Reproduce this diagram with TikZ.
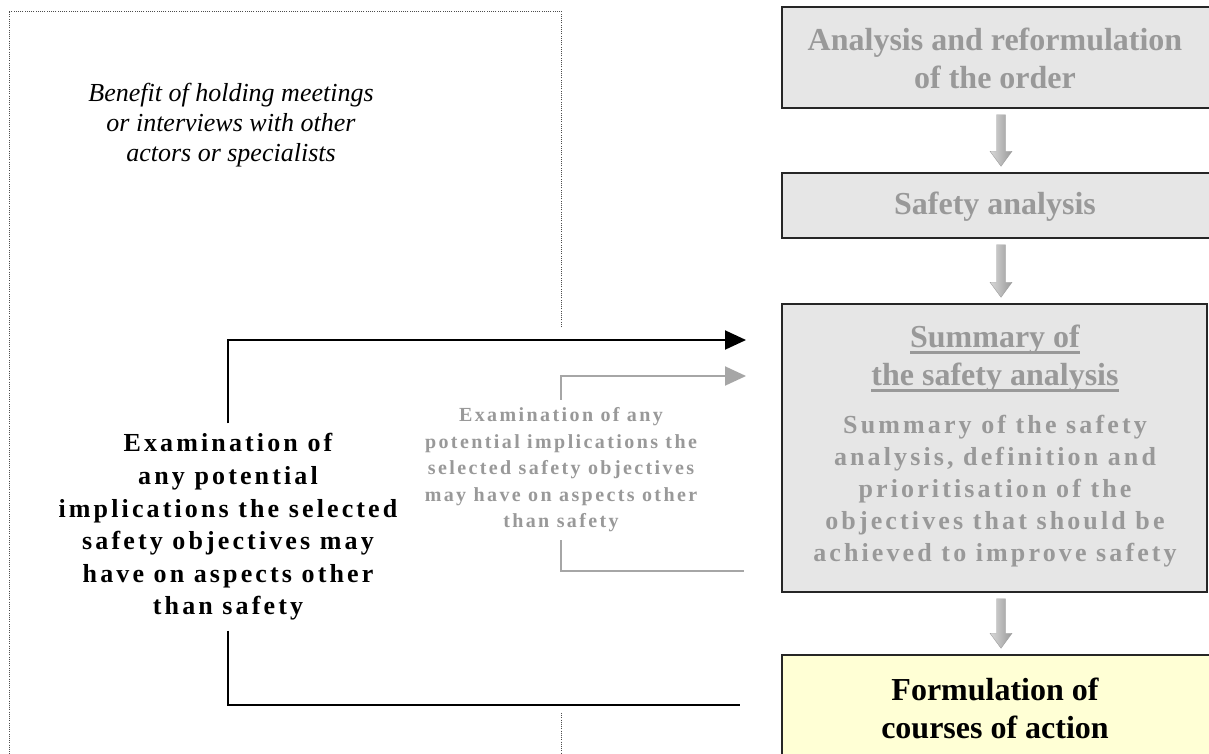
\documentclass[tikz,border=0pt]{standalone}
\usepackage{fontspec}
\setmainfont{Liberation Serif}
\newfontfamily\spacedserif[LetterSpace=12]{Liberation Serif}
\usetikzlibrary{arrows.meta,calc}
\definecolor{boxgray}{HTML}{E6E6E6}
\definecolor{txtgray}{HTML}{999999}
\definecolor{linegray}{HTML}{A6A6A6}
\definecolor{paleyellow}{HTML}{FFFFD5}
\newcommand\myul[1]{\leavevmode\setbox0=\hbox{#1}\rlap{\raisebox{-6pt}{\color{txtgray}\rule{\wd0}{2.5pt}}}\box0}
\tikzset{
  frameline/.style={draw=black!70, line width=1pt, dash pattern=on 1pt off 1.2pt},
  stagebox/.style={draw=black!85, line width=1.5pt, fill=boxgray, rectangle, inner sep=0pt},
  titletext/.style={font={\fontsize{32}{38}\selectfont\bfseries}, align=center, inner sep=0pt, text=txtgray},
  bodytext/.style={font={\spacedserif\fontsize{26}{32}\selectfont\bfseries}, align=center, inner sep=0pt, text=txtgray},
  blacktext/.style={font={\spacedserif\fontsize{26}{32.6}\selectfont\bfseries}, align=center, inner xsep=0pt, inner ysep=10pt},
  graytext/.style={font={\spacedserif\fontsize{20}{26.5}\selectfont\bfseries}, align=center, inner xsep=0pt, inner ysep=8pt, text=txtgray},
  italictext/.style={font={\fontsize{26}{30}\selectfont\itshape}, align=center, inner sep=0pt},
  blackline/.style={draw=black, line width=2pt},
  grayline/.style={draw=linegray, line width=2pt},
  tipblack/.style={-{Triangle[length=21pt,width=19pt]}},
  tipgray/.style={-{Triangle[length=21pt,width=19pt,fill=linegray]}},
}
\newcommand\blockarrow[2]{%
  \shade[left color=gray!30, right color=gray!80, draw=gray!75, line width=0.4pt]
  let \p0=(axis), \p1=(#1), \p2=(#2) in
  (\x0-4.5pt,\y1-6pt) -- (\x0+4.5pt,\y1-6pt) -- (\x0+4.5pt,\y2+21pt) -- (\x0+11pt,\y2+21pt)
  -- (\x0,\y2+6pt) -- (\x0-11pt,\y2+21pt) -- (\x0-4.5pt,\y2+21pt) -- cycle;}
\begin{document}
\begin{tikzpicture}[x=1pt,y=-1pt]
\useasboundingbox[fill=white] (0,0) rectangle (1209,753);
% dotted frame
\draw[frameline] (561,327) -- (561,11) -- (9,11) -- (9,770);
\draw[frameline] (561,713) -- (561,770);
% italic note
\node[italictext] (note) at (231,125) {Benefit of holding meetings\\or interviews with other\\actors or specialists};
% stage boxes
\node[stagebox, minimum width=434pt, minimum height=101pt] (b1) at (999,57.5) {};
\node[stagebox, minimum width=434pt, minimum height=65pt] (b2) at (999,205.5) {};
\node[stagebox, minimum width=425pt, minimum height=288pt] (b3) at (994.5,448) {};
\node[stagebox, fill=paleyellow, minimum width=434pt, minimum height=115pt] (b4) at (999,712.5) {};
% texts
\node[titletext] (t1) at (995,58.5) {Analysis and reformulation\\of the order};
\node[titletext] (t2) at (995,207) {Safety analysis};
\node[titletext] (t3) at (995,359) {\myul{Summary of}\\\myul{the safety analysis}};
\node[bodytext] (t3b) at (995,491) {Summary of the safety\\analysis, definition and\\prioritisation of the\\objectives that should be\\achieved to improve safety};
\node[titletext, text=black] (t4) at (995,708) {Formulation of\\courses of action};
% block arrows
\coordinate (axis) at (1001,0);
\blockarrow{b1.south}{b2.north}
\blockarrow{b2.south}{b3.north}
\blockarrow{b3.south}{b4.north}
% side texts
\node[blacktext] (bt) at (228,527) {Examination of\\any potential\\implications the selected\\safety objectives may\\have on aspects other\\than safety};
\node[graytext] (gt) at (561,470) {Examination of any\\potential implications the\\selected safety objectives\\may have on aspects other\\than safety};
% connectors
\coordinate (bk1) at (746,340);
\coordinate (bk2) at (740,705);
\coordinate (gr1) at (746,376);
\coordinate (gr2) at (744,571);
\draw[blackline, tipblack] (bt.north) |- (bk1);
\draw[blackline] (bt.south) |- (bk2);
\draw[grayline, tipgray] (gt.north) |- (gr1);
\draw[grayline] (gt.south) |- (gr2);
\end{tikzpicture}
\end{document}
